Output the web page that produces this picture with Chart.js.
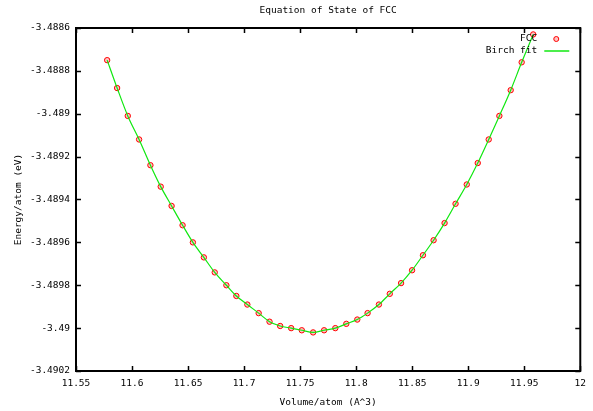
<!DOCTYPE html>
<html>
<head>
<meta charset="utf-8">
<script src="https://cdn.jsdelivr.net/npm/chart.js@4/dist/chart.umd.min.js"></script>
<style>
  html, body { margin: 0; padding: 0; background: #fff; }
  #wrap { width: 593px; height: 411px; }
</style>
</head>
<body>
<div id="wrap"><canvas id="eosChart" width="593" height="411"></canvas></div>
<script>
// volume per atom (A^3) and energy per atom (eV)
const volumes = [11.5778, 11.5867, 11.5962, 11.6063, 11.6164, 11.6256, 11.6353, 11.6451, 11.6543, 11.6641,
                 11.6738, 11.6842, 11.6931, 11.7029, 11.7130, 11.7227, 11.7322, 11.7420, 11.7515, 11.7616,
                 11.7714, 11.7814, 11.7912, 11.8010, 11.8102, 11.8203, 11.8300, 11.8401, 11.8499, 11.8596,
                 11.8691, 11.8789, 11.8887, 11.8987, 11.9085, 11.9183, 11.9278, 11.9379, 11.9477, 11.9580];
const energies = [-3.48875, -3.48888, -3.48901, -3.48912, -3.48924, -3.48934, -3.48943, -3.48952, -3.48960, -3.48967,
                  -3.48974, -3.48980, -3.48985, -3.48989, -3.48993, -3.48997, -3.48999, -3.49000, -3.49001, -3.49002,
                  -3.49001, -3.49000, -3.48998, -3.48996, -3.48993, -3.48989, -3.48984, -3.48979, -3.48973, -3.48966,
                  -3.48959, -3.48951, -3.48942, -3.48933, -3.48923, -3.48912, -3.48901, -3.48889, -3.48876, -3.48863];
const fitEnergies = energies.slice();

const seriesNames = ['FCC', 'Birch fit'];
const xRange = [11.55, 12];
const yRange = [-3.4902, -3.4886];

const FONT = 'DejaVu Sans Mono';
const FONT_SIZE = 9.5;

function toPoints(xs, ys) {
    return xs.map((x, i) => ({ x: x, y: ys[i] }));
}

// gnuplot style frame: border all round, ticks pointing inwards on all four sides
const framePlugin = {
    id: 'frame',
    afterDatasetsDraw(chart) {
        const { ctx, chartArea: a, scales } = chart;
        ctx.save();
        ctx.strokeStyle = '#000';
        ctx.lineWidth = 1.5;
        scales.x.ticks.forEach(t => {
            const px = Math.round(scales.x.getPixelForValue(t.value)) + 0.5;
            ctx.beginPath();
            ctx.moveTo(px, a.bottom); ctx.lineTo(px, a.bottom - 5);
            ctx.moveTo(px, a.top); ctx.lineTo(px, a.top + 5);
            ctx.stroke();
        });
        scales.y.ticks.forEach(t => {
            const py = Math.round(scales.y.getPixelForValue(t.value)) + 0.5;
            ctx.beginPath();
            ctx.moveTo(a.left, py); ctx.lineTo(a.left + 5, py);
            ctx.moveTo(a.right, py); ctx.lineTo(a.right - 5, py);
            ctx.stroke();
        });
        ctx.lineWidth = 2;
        ctx.strokeRect(a.left, a.top, a.right - a.left, a.bottom - a.top);
        ctx.restore();
    }
};

// key in the top right corner, text first and sample after it
const keyPlugin = {
    id: 'key',
    afterDatasetsDraw(chart) {
        const { ctx, chartArea: a } = chart;
        const textX = a.right - 43;
        ctx.save();
        ctx.font = FONT_SIZE + 'px "' + FONT + '"';
        ctx.fillStyle = '#000';
        ctx.textAlign = 'right';
        ctx.textBaseline = 'middle';
        const pts = chart.data.datasets[0];
        const fit = chart.data.datasets[1];
        ctx.fillText(pts.label, textX, a.top + 11);
        ctx.beginPath();
        ctx.arc(a.right - 24, a.top + 11, 2.5, 0, Math.PI * 2);
        ctx.fillStyle = pts.backgroundColor;
        ctx.fill();
        ctx.strokeStyle = pts.borderColor;
        ctx.lineWidth = 1;
        ctx.stroke();
        ctx.fillStyle = '#000';
        ctx.fillText(fit.label, textX, a.top + 23);
        ctx.beginPath();
        ctx.moveTo(a.right - 36, a.top + 23);
        ctx.lineTo(a.right - 11, a.top + 23);
        ctx.strokeStyle = fit.borderColor;
        ctx.lineWidth = 1.5;
        ctx.stroke();
        ctx.restore();
    }
};

function trimNum(v, d) {
    return String(parseFloat(Number(v).toFixed(d)));
}

function renderChart() {
    const ctx = document.getElementById('eosChart').getContext('2d');
    Chart.defaults.font.family = FONT;
    Chart.defaults.font.size = FONT_SIZE;
    Chart.defaults.color = '#000';

    new Chart(ctx, {
        type: 'scatter',
        data: {
            datasets: [{
                label: seriesNames[0],
                data: toPoints(volumes, energies),
                showLine: false,
                pointStyle: 'circle',
                pointRadius: 2.7,
                pointHoverRadius: 2.7,
                borderColor: '#ff0000',
                backgroundColor: 'rgba(255,60,60,0.3)',
                borderWidth: 1,
                order: 2
            }, {
                label: seriesNames[1],
                data: toPoints(volumes, fitEnergies),
                showLine: true,
                pointRadius: 0,
                borderColor: '#10e810',
                borderWidth: 1.2,
                cubicInterpolationMode: 'monotone',
                order: 1
            }]
        },
        options: {
            responsive: false,
            animation: false,
            layout: { padding: { left: 0, right: 11, top: 0, bottom: 0 } },
            plugins: {
                legend: { display: false },
                tooltip: { enabled: false },
                title: {
                    display: true,
                    fullSize: false,
                    text: 'Equation of State of FCC',
                    font: { family: FONT, size: FONT_SIZE, weight: 'normal' },
                    color: '#000',
                    padding: { top: 5, bottom: 11.6 }
                }
            },
            scales: {
                x: {
                    type: 'linear',
                    min: xRange[0],
                    max: xRange[1],
                    grid: { display: false, drawTicks: false },
                    border: { display: false },
                    ticks: {
                        stepSize: 0.05,
                        padding: 7,
                        maxRotation: 0,
                        autoSkip: false,
                        callback: v => trimNum(v, 2)
                    },
                    title: {
                        display: true,
                        text: 'Volume/atom (A^3)',
                        padding: { top: 0, bottom: 3 }
                    },
                    afterFit: s => { s.height = 40; }
                },
                y: {
                    type: 'linear',
                    min: yRange[0],
                    max: yRange[1],
                    grid: { display: false, drawTicks: false },
                    border: { display: false },
                    ticks: {
                        stepSize: 0.0002,
                        padding: 6,
                        autoSkip: false,
                        callback: v => trimNum(v, 4)
                    },
                    title: {
                        display: true,
                        text: 'Energy/atom (eV)',
                        padding: { top: 13, bottom: 0 }
                    },
                    afterFit: s => { s.width = 76; }
                }
            }
        },
        plugins: [framePlugin, keyPlugin]
    });
}

document.addEventListener('DOMContentLoaded', renderChart);
</script>
</body>
</html>
